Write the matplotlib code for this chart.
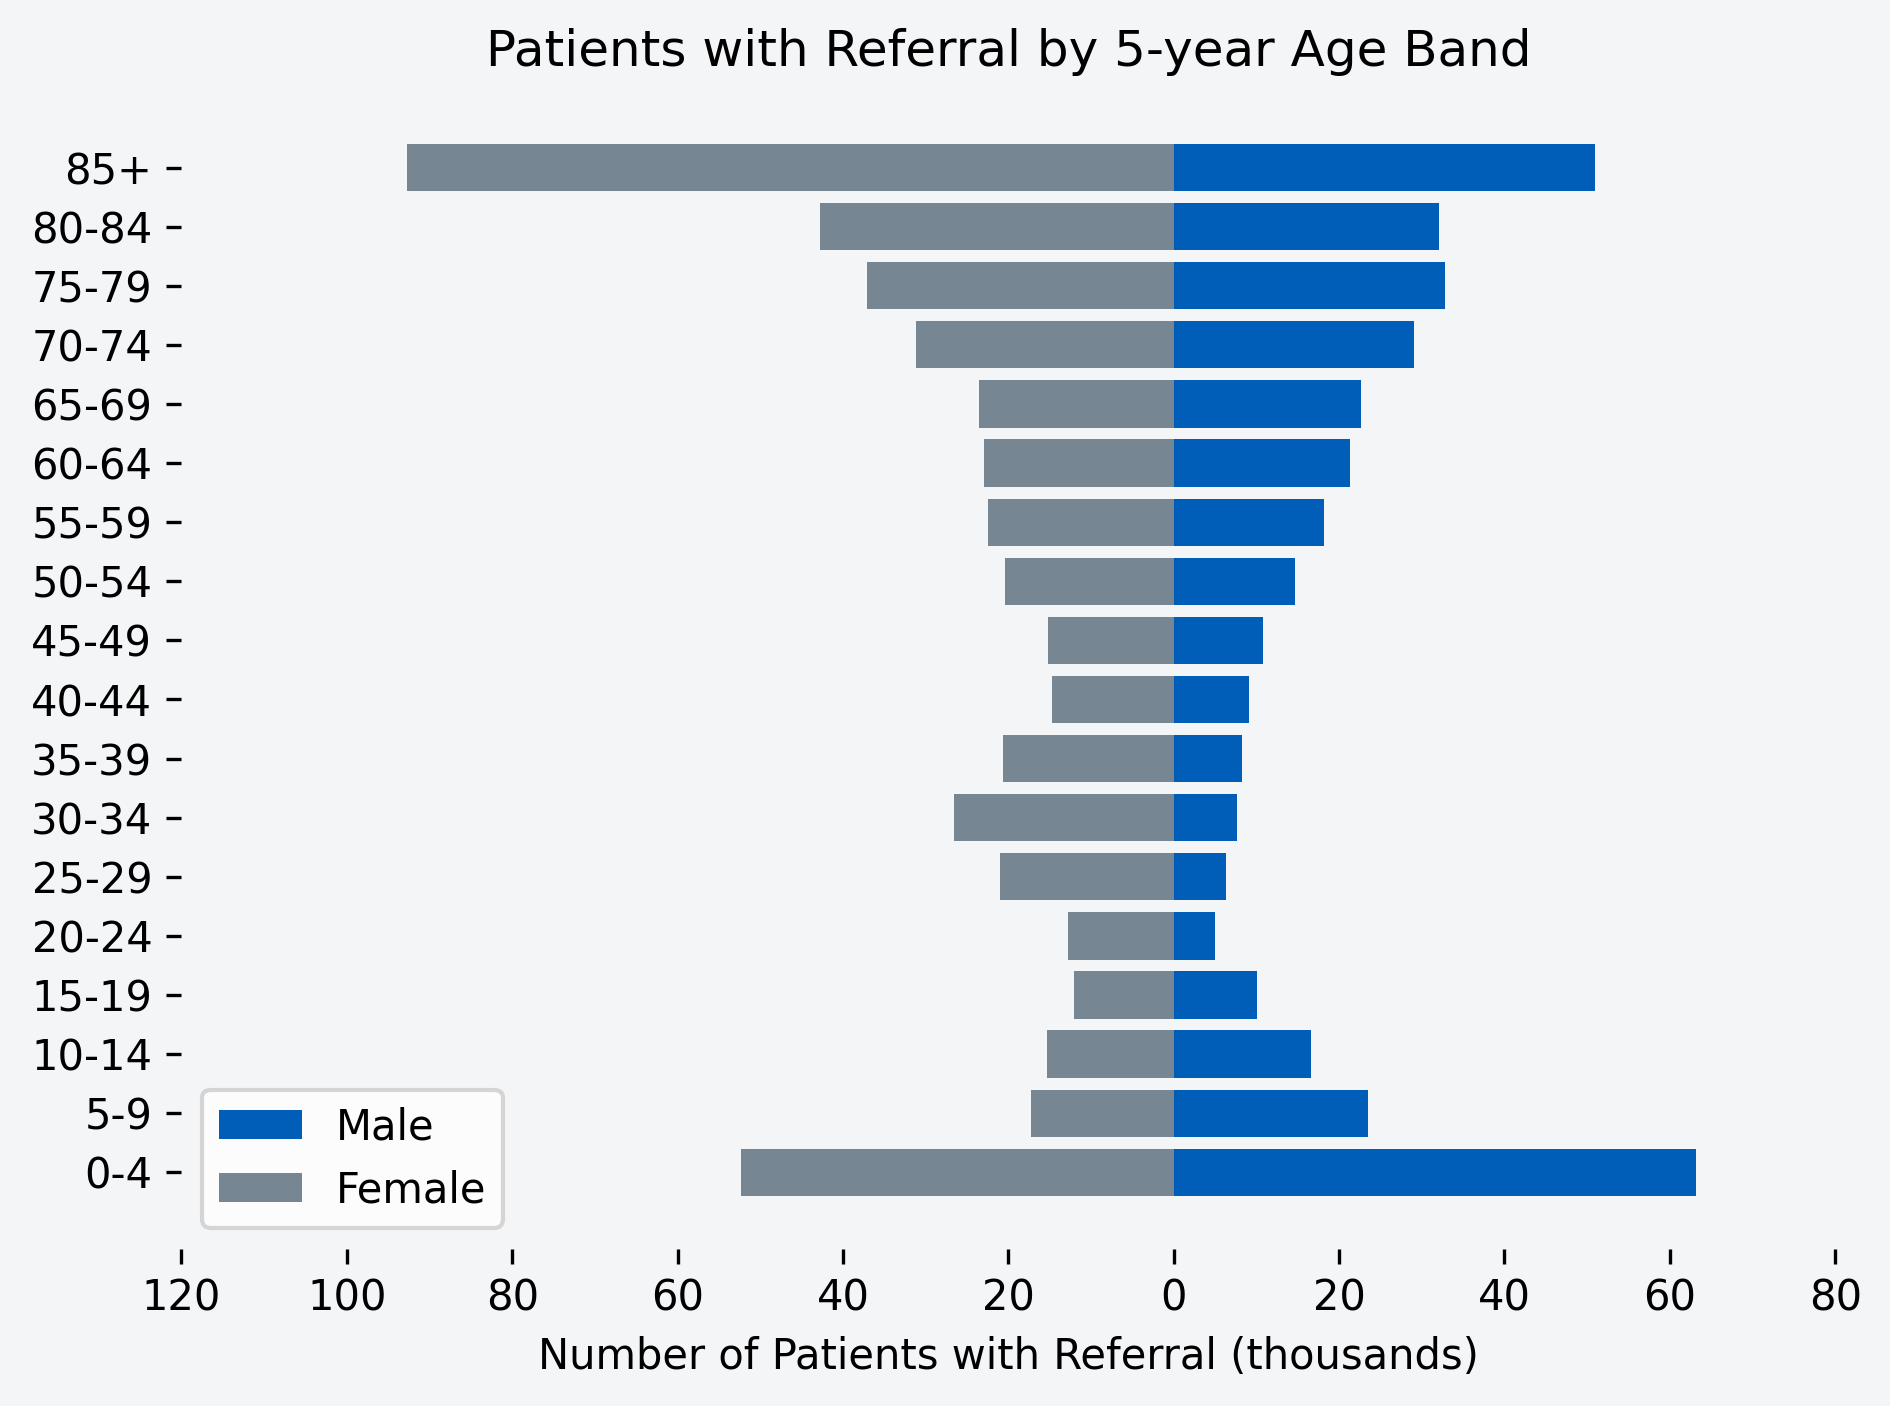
import matplotlib
matplotlib.use("Agg")
import matplotlib.pyplot as plt
from matplotlib.ticker import FuncFormatter

# age bands, youngest first (thousands of patients)
age_bands = ["0-4", "5-9", "10-14", "15-19", "20-24", "25-29", "30-34", "35-39",
             "40-44", "45-49", "50-54", "55-59", "60-64", "65-69", "70-74",
             "75-79", "80-84", "85+"]
male = [63.2, 23.5, 16.6, 10.1, 5.0, 6.3, 7.7, 8.3,
        9.1, 10.8, 14.7, 18.2, 21.3, 22.6, 29.1,
        32.8, 32.1, 50.9]
female = [52.3, 17.2, 15.3, 12.1, 12.8, 21.0, 26.6, 20.6,
          14.7, 15.2, 20.4, 22.5, 22.9, 23.5, 31.2,
          37.1, 42.8, 92.7]
xticks = [-120, -100, -80, -60, -40, -20, 0, 20, 40, 60, 80]

bg = "#f4f5f7"
fig, ax = plt.subplots(figsize=(6.3, 4.687), dpi=300)
fig.patch.set_facecolor(bg)
ax.set_facecolor(bg)

ax.barh(age_bands, male, color="#005eb8", label="Male")
ax.barh(age_bands, [-v for v in female], color="#768692", label="Female")

ax.set_xticks(xticks)
ax.set_xlim(-120, 80)
ax.xaxis.set_major_formatter(FuncFormatter(lambda v, p: f"{abs(int(v))}"))
for s in ax.spines.values():
    s.set_visible(False)

ax.set_xlabel("Number of Patients with Referral (thousands)")
ax.set_title("Patients with Referral by 5-year Age Band")
ax.legend(loc="lower left")

plt.subplots_adjust(left=0.096, right=0.971, top=0.935, bottom=0.112)
plt.savefig("out.png", dpi=300, facecolor=bg)
